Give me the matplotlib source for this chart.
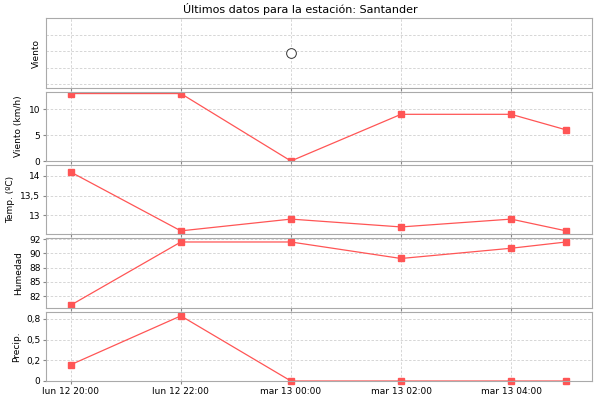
import matplotlib
matplotlib.use("Agg")
import matplotlib.pyplot as plt

hours = [20, 22, 24, 26, 28, 29]
xticks = [20, 22, 24, 26, 28]
xlabels = ["lun 12 20:00", "lun 12 22:00", "mar 13 00:00", "mar 13 02:00", "mar 13 04:00"]
dir_hours = [24]
dir_vals = [0.5]
wind = [13, 13, 0, 9, 9, 6]
temp = [14.1, 12.6, 12.9, 12.7, 12.9, 12.6]
hum = [80.4, 91.5, 91.5, 88.6, 90.4, 91.5]
prec = [0.21, 0.84, 0, 0, 0, 0]

plt.rcParams['font.family'] = ['DejaVu Sans']
plt.rcParams['font.size'] = 6.5
fig = plt.figure(figsize=(6, 4), dpi=100)
W, H = 600, 400
panels = [(18, 88), (92, 161), (165, 234), (238, 308), (312, 381)]
axes = []
for (t, b) in panels:
    ax = fig.add_axes([46 / W, 1 - b / H, (592 - 46) / W, (b - t) / H])
    ax.set_xlim(19.55, 29.47)
    ax.set_xticks(xticks)
    ax.grid(True, color="#d0d0d0", linestyle=(0, (3, 2)), linewidth=0.6)
    for s in ax.spines.values():
        s.set_color("#aaaaaa")
    ax.tick_params(length=2, color="#888888", pad=2)
    ax.tick_params(axis='x', labelbottom=False)
    axes.append(ax)

c = "#ff5555"
a0, a1, a2, a3, a4 = axes
a0.plot(dir_hours, dir_vals, 'o', mfc='white', mec='#333333', ms=7, mew=0.7)
a0.set_ylim(0, 1)
a0.set_yticks([0.06, 0.29, 0.53, 0.76])
a0.tick_params(axis='y', labelleft=False, length=0)
a0.set_ylabel("Viento")

kw = dict(color=c, marker='s', ms=5, lw=0.9)
a1.plot(hours, wind, **kw); a1.set_ylim(0, 13.3); a1.set_yticks([0, 5, 10]); a1.set_ylabel("Viento (km/h)")
a2.plot(hours, temp, **kw); a2.set_ylim(12.52, 14.28); a2.set_yticks([13, 13.5, 14]); a2.set_yticklabels(["13", "13,5", "14"]); a2.set_ylabel("Temp. (ºC)")
a3.plot(hours, hum, **kw); a3.set_ylim(79.9, 92.2); a3.set_yticks([82, 84.5, 87, 89.5, 92]); a3.set_yticklabels(["82", "85", "88", "90", "92"]); a3.set_ylabel("Humedad")
a4.plot(hours, prec, clip_on=False, **kw); a4.set_ylim(0, 0.89); a4.set_yticks([0, 0.267, 0.533, 0.8]); a4.set_yticklabels(["0", "0,2", "0,5", "0,8"]); a4.set_ylabel("Precip.")
a4.tick_params(axis='x', labelbottom=True)
a4.set_xticklabels(xlabels)

fig.text(0.5, 1 - 9 / H, "Últimos datos para la estación: Santander", ha='center', va='center', fontsize=8)
fig.savefig("out.png", dpi=100)
